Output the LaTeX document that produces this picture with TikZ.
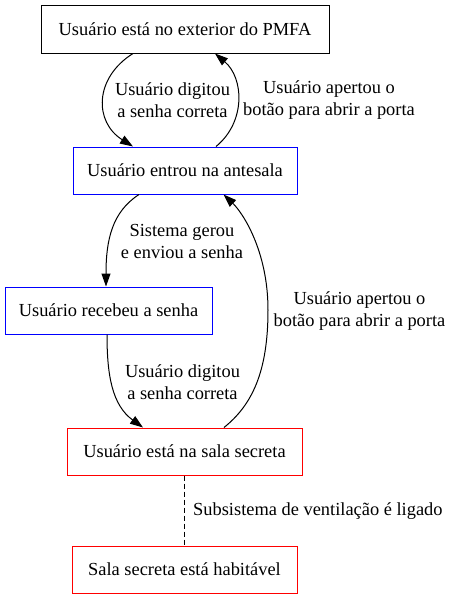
\documentclass[tikz,border=0pt]{standalone}
\usepackage{fontspec}
\setmainfont{Liberation Serif}
\usetikzlibrary{arrows.meta}
\begin{document}
\begin{tikzpicture}[x=1pt,y=-1pt,
  state/.style={draw,rectangle,inner sep=0pt,line width=1pt,minimum height=47pt,font=\fontsize{18.4}{22}\selectfont},
  lbl/.style={align=center,inner sep=0pt,font=\fontsize{18.4}{22}\selectfont},
  edge/.style={line width=1pt,-{Triangle[length=13pt,width=9pt]}},
  dashedge/.style={line width=1pt,dash pattern=on 5pt off 3pt}]
\useasboundingbox (0,0) rectangle (459,600);
\node[state,minimum width=288pt,minimum height=48pt] (n1) at (185,29) {Usuário está no exterior do PMFA};
\node[state,blue,text=black,minimum width=224pt] (n2) at (185,170.5) {Usuário entrou na antesala};
\node[state,blue,text=black,minimum width=207pt] (n3) at (108.5,310.5) {Usuário recebeu a senha};
\node[state,red,text=black,minimum width=235pt] (n4) at (184.5,451.5) {Usuário está na sala secreta};
\node[state,red,text=black,minimum width=225pt] (n5) at (184.5,569.5) {Sala secreta está habitável};
% labels
\node[lbl] (l1) at (172.5,100) {Usuário digitou\\a senha correta};
\node[lbl] (l2) at (329,100) {Usuário apertou o\\botão para abrir a porta};
\node[lbl] (l3) at (182,241) {Sistema gerou\\e enviou a senha};
\node[lbl] (l4) at (182.5,382) {Usuário digitou\\a senha correta};
\node[lbl] (l5) at (359.5,311.5) {Usuário apertou o\\botão para abrir a porta};
\node[lbl,anchor=west] (l6) at (193,511) {Subsistema de ventilação é ligado};
% edges
\draw[edge] ([xshift=-52pt]n1.south) .. controls (94,78) and (94,122) .. ([xshift=-52pt]n2.north);
\draw[edge] ([xshift=31pt]n2.north) .. controls (246,122) and (244,78) .. ([xshift=30pt]n1.south);
\draw[edge] ([xshift=-46pt]n2.south) .. controls (112,212) and (106,240) .. ([xshift=-2.5pt]n3.north);
\draw[edge] ([xshift=-1.5pt]n3.south) .. controls (107,375) and (112,405) .. ([xshift=-41.5pt]n4.north);
\draw[edge] ([xshift=39.5pt]n4.north) .. controls (252,405) and (268,372) .. (268,310) .. controls (268,250) and (242,212) .. ([xshift=38.5pt]n2.south);
\draw[dashedge] (n4.south) -- (n5.north);
\end{tikzpicture}
\end{document}
